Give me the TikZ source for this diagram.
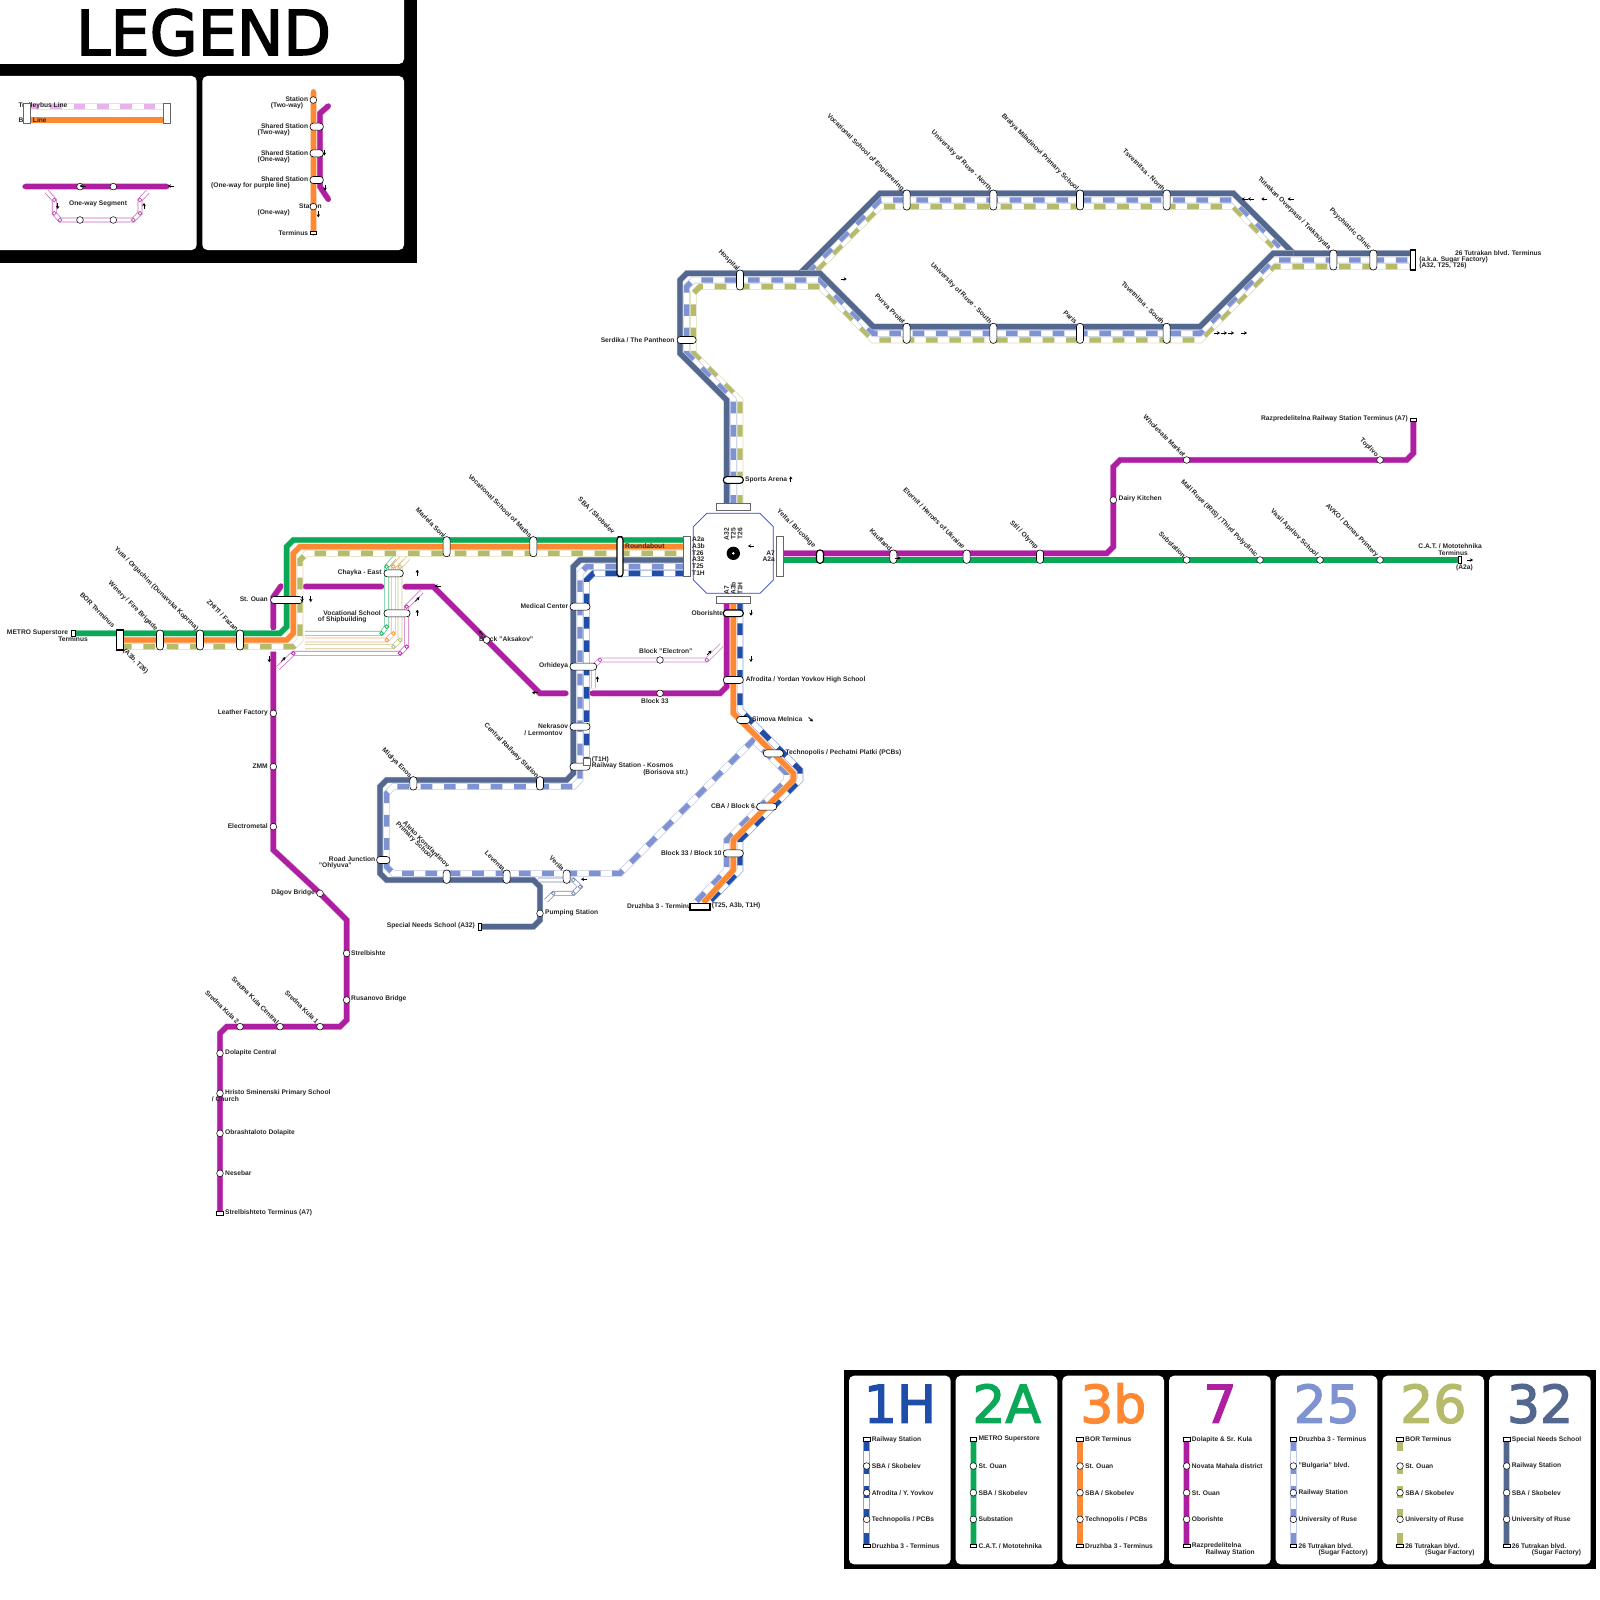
\documentclass[tikz,border=0pt]{standalone}
\usepackage{fontspec}
\setmainfont{Liberation Sans}
\newfontfamily\routefont[RawFeature={embolden=2.5}]{DejaVu Sans}
\usetikzlibrary{positioning,arrows.meta,backgrounds,calc}
\definecolor{linepurple}{RGB}{173,31,160}
\definecolor{linegreen}{RGB}{11,168,88}
\definecolor{lineorange}{RGB}{255,136,51}
\definecolor{lineblue}{RGB}{127,146,210}
\definecolor{lineolive}{RGB}{182,187,107}
\definecolor{lineslate}{RGB}{84,104,143}
\definecolor{linenavy}{RGB}{31,77,168}
\definecolor{legpink}{RGB}{230,180,235}
\definecolor{hubblue}{RGB}{43,63,224}
\tikzset{
  lab/.style={font=\bfseries\fontsize{6.67}{7.5}\selectfont,inner sep=0pt,text=black!85},
  eastlab/.style={lab,anchor=east},
  westlab/.style={lab,anchor=west},
  diaglab/.style={lab,anchor=east,rotate=-45},
  bigglyph/.style={font=\routefont\fontsize{#1}{#1}\selectfont,inner sep=0pt,anchor=base},
  stn/.style={circle,draw=black,fill=white,line width=.5pt,minimum size=6.67pt,inner sep=0pt},
  termbox/.style={rectangle,draw=black,fill=white,line width=.6pt,minimum width=6.67pt,minimum height=3.3pt,inner sep=0pt},
  capsule/.style={rectangle,rounded corners=3.2pt,draw=black,fill=white,line width=.6pt,inner sep=0pt},
  platbox/.style={rectangle,draw=black!60,fill=white,line width=.7pt,inner sep=0pt},
  bus/.style={draw=#1,line width=5.3pt,preaction={draw=#1!35,line width=6.4pt}},
  trolley/.style={draw=#1,line width=5.3pt,dash pattern=on 11.67pt off 11.67pt,
    preaction={draw=#1!50,solid,line width=6.6pt},preaction={draw=white,solid,line width=5.2pt}},
  oneway/.style={draw=#1,line width=.7pt,double=white,double distance=3.3pt},
  ring/.style={draw=#1,fill=white,line width=.7pt},
  dirtip/.style={-{Stealth[length=3pt,width=3.5pt]},line width=.8pt,black}
}
\begin{document}
\begin{tikzpicture}[x=1pt,y=-1pt]
  \useasboundingbox (0,0) rectangle (1600,1600);

  % texts of the map
  \foreach \x/\y/\txt [count=\i] in {
    903/190/{Vocational School of Engineering},990.6/190/{University of Ruse - North},
    1077.6/190/{Bratya Miladinovi Primary School},1164/190/{Tsvetnitsa - North},
    1329.8/249/{Tutrakan Overpass / Traktsiyata},1370/249/{Psychiatric Clinic},738.4/270/{Hospital},
    904.3/323/{Purva Prolet},990.6/323/{University of Ruse - South},1076.3/323/{Paris},1163.3/323/{Tsvetnitsa - South},
    814.5/547/{Yelta / Bricolage},891/550/{Kaufland},964/548/{Eternit / Heroes of Ukraine},1037/548/{Stil / Olymp},
    1184.6/557/{Substation},1256.7/556/{Mall Ruse (IRIS) / Third Polyclinic},1317/556/{Vasil Aprilov School},
    1377.4/556/{AVKO / Dunav Printery},1184.6/456/{Wholesale Market},1377.4/456/{Toplivo},
    114/626.7/{BOR Terminus},156.7/630/{Winery / Fire Brigade},197.3/630/{Yuta / Orgachim (Dunavska Koprina)},
    237.3/630/{ZHITI / Fazan},445/536.7/{Mariela Soni},531/536.7/{Vocational School of Maths},614/533/{SBA / Skobelev},
    410.7/777.3/{Midiya Enos},537.7/777.3/{Central Railway Station},448.7/866.7/{Aleko Konstantinov},
    431.7/858/{Primary School},504/870/{Leventa},563.3/870/{Verila},
    238/1023/{Sredna Kula 2},278/1023/{Sredna Kula Central},317.7/1023/{Sredna Kula 1},147/673/{(A3b, T26)}
  } \node[diaglab] (dl\i) at (\x,\y) {\txt};
  \foreach \x/\y/\txt [count=\i] in {
    674.7/340/{Serdika / The Pantheon},1541.6/253/{26 Tutrakan blvd. Terminus},1408/419/{Razpredelitelna Railway Station Terminus (A7)},
    1482/546/{C.A.T. / Mototehnika},1468/553/{Terminus},1473/568/{(A2a)},
    68.3/632.7/{METRO Superstore},88/639.3/{Terminus},268/599.3/{St. Ouan},
    381.7/572.7/{Chayka - East},381/612.7/{Vocational School},366.7/619.3/{of Shipbuilding},
    268/712.7/{Leather Factory},268/766/{ZMM},268/826/{Electrometal},315/892.7/{Dãgov Bridge},
    568.3/606/{Medical Center},568.3/666/{Orhideya},568.3/726/{Nekrasov},562.7/732.7/{/ Lermontov},
    688.3/772.7/{(Borisova str.)},375.5/859/{Road Junction},352/866/{"Ohlyuva"},475/926/{Special Needs School (A32)},
    723.3/612.7/{Oborishte},755/806/{CBA / Block 6},721.7/852.7/{Block 33 / Block 10},695/906/{Druzhba 3 - Terminus},
    775/552.7/{A7},775/559.3/{A2a},
    308.3/99.3/{Station},303.3/106/{(Two-way)},308.3/126/{Shared Station},290/132.7/{(Two-way)},
    308.3/152.7/{Shared Station},290/159.3/{(One-way)},308.3/179.3/{Shared Station},290/186/{(One-way for purple line)},
    290/212.7/{(One-way)},308.3/232.7/{Terminus}
  } \node[eastlab] (el\i) at (\x,\y) {\txt};
  \foreach \x/\y/\txt [count=\i] in {
    1419.2/259.5/{(a.k.a. Sugar Factory)},1419.2/266/{(A32, T25, T26)},745/480/{Sports Arena},
    1118.5/499/{Dairy Kitchen},225/1053/{Dolapite Central},225/1092.7/{Hristo Sminenski Primary School},
    211.7/1099.3/{/ Church},225/1133/{Obrashtaloto Dolapite},225/1173/{Nesebar},225/1213/{Strelbishteto Terminus (A7)},
    351/953/{Strelbishte},351/999/{Rusanovo Bridge},479/639.3/{Block "Aksakov"},625/546/{Roundabout},
    639/650.7/{Block "Electron"},641/700.7/{Block 33},591.7/759.3/{(T1H)},591.7/766/{Railway Station - Kosmos},
    545/912.7/{Pumping Station},745.7/680/{Afrodita / Yordan Yovkov High School},752/719.3/{Simova Melnica},
    785.3/752.7/{Technopolis / Pechatni Platki (PCBs)},711.7/906/{(T25, A3b, T1H)},
    692/539.3/{A2a},692/546/{A3b},692/553/{T26},692/559.3/{A32},692/566/{T25},692/572.7/{T1H},
    18.3/106/{Trolleybus Line},18.3/120/{Bus Line},69/204.3/{One-way Segment},299/206/{Station}
  } \node[westlab] (wl\i) at (\x,\y) {\txt};
  \foreach \x/\txt [count=\i] in {726.67/A32,733.33/T25,740/T26}
    \node[lab,anchor=east,rotate=90] (hubt\i) at (\x,528) {\txt};
  \foreach \x/\txt [count=\i] in {726.67/A7,733.33/A3b,740/T1H}
    \node[lab,anchor=west,rotate=90] (hubb\i) at (\x,595) {\txt};

  % stations
  \foreach \x/\y/\n in {1186.67/560/substn,1260/560/mallruse,1320/560/vasil,1380/560/avko,1186.67/460/wholesale,
    1380/460/toplivo,1113.33/500/dairy,273.33/713.33/leather,273.33/766.67/zmm,273.33/826.67/electro,320/893.33/dagov,
    346.67/953.33/strelb,346.67/1000/rusanovo,320/1026.67/kulaone,280/1026.67/kulacen,240/1026.67/kulatwo,
    220/1053.33/dolcen,220/1093.33/hristo,220/1133.33/obrasht,220/1173.33/nesebar,540/913.33/pumping,
    486.67/640/aksakov,660/693.33/blockthree,660/660/electron,80/186.67/lega,113.33/186.67/legb,80/220/legc,
    113.33/220/legd,313.33/100/lege,313.33/206.67/legf}
    \node[stn] (\n) at (\x,\y) {};
  \foreach \x/\y/\n in {1413.33/420/razterm,220/1213.33/strelterm,313.33/233/legterm}
    \node[termbox] (\n) at (\x,\y) {};
  \node[termbox,minimum width=3.5pt,minimum height=6.67pt] at (1460,560) (catterm) {};
  \node[termbox,minimum width=3.5pt,minimum height=6.67pt] at (73.3,633.33) (metroterm) {};
  \node[termbox,minimum width=3.5pt,minimum height=6.67pt] at (480,926.67) (specterm) {};
  % capsules, upright
  \foreach \x/\y/\h [count=\i] in {906.67/200/20,993.33/200/20,1080/200/20,1166.67/200/20,906.67/333.33/20,993.33/333.33/20,
    1080/333.33/20,1166.67/333.33/20,740/280/20,1333.33/260/20,1373.33/260/20,893.33/556.67/13.33,966.67/556.67/13.33,
    1040/556.67/13.33,160/640/20,200/640/20,240/640/20,446.67/546.67/20,533.33/546.67/20,413.33/783.33/13.33,
    540/783.33/13.33,446.67/876.67/13.33,506.67/876.67/13.33,566.67/876.67/13.33}
    \node[capsule,minimum width=7pt,minimum height=\h pt] (cv\i) at (\x,\y) {};
  % capsules, lying
  \foreach \x/\y/\w [count=\i] in {686.67/340/19,286.67/600/32,393.67/573.33/19.3,397/613.33/26,580/606.67/20,
    583.33/666.67/26.67,580/726.67/20,580/766.67/20,733.33/680/20,743.33/720/13.33,773.33/753.33/20,766.67/806.67/20,
    733.33/853.33/20,383.33/860/13.33,316.67/126.67/13.33,316.67/153.33/13.33,316.67/180/13.33}
    \node[capsule,minimum width=\w pt,minimum height=7pt] (ch\i) at (\x,\y) {};
  \node[capsule,line width=1.1pt,minimum width=7pt,minimum height=13.33pt] (yelta) at (820,556.67) {};
  \node[capsule,line width=1.1pt,minimum width=6pt,minimum height=40pt] (sbasta) at (620,556.67) {};
  \node[capsule,line width=1.1pt,minimum width=20pt,minimum height=6.67pt] (sports) at (733.33,480) {};
  \node[capsule,line width=1.1pt,minimum width=20pt,minimum height=6.67pt] (oborishte) at (733.33,613.33) {};
  % platforms and termini
  \node[platbox,minimum width=34pt,minimum height=6.67pt] (tplat) at (733.33,506.67) {};
  \node[platbox,minimum width=34pt,minimum height=6.67pt] (bplat) at (733.33,600) {};
  \node[platbox,minimum width=7.3pt,minimum height=40pt] (lplat) at (687,556.67) {};
  \node[platbox,minimum width=6.67pt,minimum height=40pt] (rplat) at (780,556.67) {};
  \node[platbox,draw=black,line width=1.1pt,minimum width=6.67pt,minimum height=20pt] (lterm) at (120,640) {};
  \node[platbox,draw=black,line width=1.1pt,minimum width=5pt,minimum height=20pt] (rterm) at (1413.33,260) {};
  \node[platbox,draw=black,line width=1.1pt,minimum width=20pt,minimum height=6.67pt] (druzhba) at (700,906.67) {};
  \node[platbox,minimum width=6.67pt,minimum height=6.67pt] (kosmosbox) at (586.67,761.67) {};
  \node[platbox,minimum width=7.3pt,minimum height=20pt] (tleft) at (27,113.33) {};
  \node[platbox,minimum width=6.67pt,minimum height=20pt] (tright) at (166.67,113.33) {};
  \node[circle,fill=black,minimum size=13.33pt,inner sep=0pt] (hub) at (733.33,553.33) {};
  \node[circle,fill=white,minimum size=2.7pt,inner sep=0pt] (hubhole) at (733.33,553.33) {};

  % route panels
  \fill[black] (844,1370) rectangle (1596,1569);
  \foreach \px/\col/\kind/\ttl/\ua/\ub/\uc/\ud/\ue [count=\i] in {
    849/linenavy/trolley/1H/{Railway Station}/{SBA / Skobelev}/{Afrodita / Y. Yovkov}/{Technopolis / PCBs}/{Druzhba 3 - Terminus},
    955.67/linegreen/bus/2A/{METRO Superstore}/{St. Ouan}/{SBA / Skobelev}/{Substation}/{C.A.T. / Mototehnika},
    1062.33/lineorange/bus/3b/{BOR Terminus}/{St. Ouan}/{SBA / Skobelev}/{Technopolis / PCBs}/{Druzhba 3 - Terminus},
    1169/linepurple/bus/7/{Dolapite \& Sr. Kula}/{Novata Mahala district}/{St. Ouan}/{Oborishte}/{Razpredelitelna},
    1275.67/lineblue/trolley/25/{Druzhba 3 - Terminus}/{"Bulgaria" blvd.}/{Railway Station}/{University of Ruse}/{26 Tutrakan blvd.},
    1382.33/lineolive/trolley/26/{BOR Terminus}/{St. Ouan}/{SBA / Skobelev}/{University of Ruse}/{26 Tutrakan blvd.},
    1489/lineslate/bus/32/{Special Needs School}/{Railway Station}/{SBA / Skobelev}/{University of Ruse}/{26 Tutrakan blvd.}
  } {
    \fill[white,rounded corners=5pt] (\px,1375.7) rectangle (\px+101.67,1564.3);
    \node[bigglyph=52,text=\col] (pt\i) at (\px+51,1422.7) {\ttl};
    \draw[\kind=\col] (\px+17.67,1439.3) -- (\px+17.67,1546);
    \node[stn] (pb\i) at (\px+17.67,1466) {};
    \node[stn] (pc\i) at (\px+17.67,1492.7) {};
    \node[stn] (pd\i) at (\px+17.67,1519.3) {};
    \node[termbox] (pa\i) at (\px+17.67,1439.3) {};
    \node[termbox] (pe\i) at (\px+17.67,1546) {};
    \node[westlab] (qa\i) at (\px+22.7,1439.3) {\ua};
    \node[westlab] (qb\i) at (\px+22.7,1466) {\ub};
    \node[westlab] (qc\i) at (\px+22.7,1492.7) {\uc};
    \node[westlab] (qd\i) at (\px+22.7,1519.3) {\ud};
    \node[westlab] (qe\i) at (\px+22.7,1546) {\ue};
  }
  \foreach \x/\txt [count=\i] in {1255/Railway Station,1368/(Sugar Factory),1474.7/(Sugar Factory),1581.3/(Sugar Factory)}
    \node[eastlab] (qf\i) at (\x,1552.7) {\txt};

  \begin{scope}[on background layer]
    % legend frame
    \fill[black] (0,0) rectangle (417,263);
    \fill[white,rounded corners=5pt] (-10,-10) rectangle (404,64);
    \fill[white,rounded corners=5pt] (-10,76) rectangle (196.7,250);
    \fill[white,rounded corners=5pt] (202.3,76) rectangle (404,250);
    \draw[trolley=legpink] (tleft |- 0,106.67) -- (tright |- 0,106.67);
    \draw[bus=lineorange] (tleft |- 0,120) -- (tright |- 0,120);
    \draw[bus=linepurple,line cap=round] (25,186.67) -- (167,186.67);
    \draw[oneway=linepurple!70] (46.7,191.7) -- (54.3,200) -- (54.3,213.3) -- (60,220) -- (133.3,220) -- (140,213.3) -- (140,200) -- (147.7,191.7);
    \foreach \x/\y in {54.3/200,54.3/213.3,60/220,133.3/220,140/213.3,140/200}
      \draw[ring=linepurple!80] (\x,\y) circle (1.9pt);
    \draw[bus=lineorange,line cap=round] (lege.center) -- (313.33,91.7) (lege.center) -- (legterm.center);
    \draw[bus=linepurple,line cap=round] (328.3,106) -- (320,113.3) -- (320,186.7) -- (328.3,199.3);

    % purple route
    \draw[bus=linepurple] (razterm.center) -- (1413.33,453.33) -- (1406.67,460) -- (toplivo.center) -- (wholesale.center) -- (1120,460) -- (1113.33,466.67) -- (dairy.center) -- (1113.33,546.67) -- (1106.67,553.33) -- (rplat |- 0,553.33);
    \draw[bus=linepurple,line cap=round] (273.33,628) -- (273.33,597) -- (281,586);
    \draw[bus=linepurple,line cap=round] (305,586.67) -- (381.67,586.67);
    \draw[bus=linepurple,line cap=round] (405,586.67) -- (433.33,586.67) -- (aksakov.center) -- (540,693.33) -- (566,693.33);
    \draw[bus=linepurple,line cap=round] (592,693.33) -- (blockthree.center) -- (720,693.33) -- (726.67,686.67) -- (726.67,0 |- bplat);
    \draw[bus=linepurple] (273.33,651.67) -- (leather.center) -- (zmm.center) -- (electro.center) -- (273.33,850) -- (dagov.center) -- (346.67,920) -- (strelb.center) -- (rusanovo.center) -- (346.67,1020) -- (340,1026.67) -- (kulaone.center) -- (kulacen.center) -- (kulatwo.center) -- (226.67,1026.67) -- (220,1033.33) -- (dolcen.center) -- (hristo.center) -- (obrasht.center) -- (nesebar.center) -- (strelterm.center);

    % green, orange and olive going west
    \draw[bus=linegreen] (rplat |- 0,560) -- (substn.center) -- (mallruse.center) -- (vasil.center) -- (avko.center) -- (catterm.center);
    \draw[bus=linegreen] (metroterm.center) -- (280,633.33) -- (286.67,626.67) -- (286.67,546.67) -- (293.33,540) -- (lplat |- 0,540);
    \draw[bus=lineorange] (lterm |- 0,640) -- (286.67,640) -- (293.33,633.33) -- (293.33,553.33) -- (300,546.67) -- (lplat |- 0,546.67);
    \draw[trolley=lineolive] (lterm |- 0,646.67) -- (293.33,646.67) -- (300,640) -- (300,560) -- (306.67,553.33) -- (lplat |- 0,553.33);

    % one-way branch at Chayka
    \draw[oneway=linegreen!70] (305,633.33) -- (381.67,633.33) -- (386.67,626.67) -- (386.67,566.67) -- (394.3,558);
    \draw[oneway=lineorange!70] (305,640) -- (386.67,640) -- (393.33,633.33) -- (393.33,566.67) -- (401.7,558);
    \draw[oneway=lineolive!80] (305,646.67) -- (393.33,646.67) -- (400,640) -- (400,566.67) -- (408.3,558);
    \draw[oneway=linepurple!70] (278,668) -- (293.33,653.33) -- (400,653.33) -- (406.67,646.67) -- (406.67,606.67) -- (421.7,591.7);
    \foreach \x/\y/\col in {381.67/633.33/linegreen,386.67/626.67/linegreen,386.67/566.67/linegreen,386.67/640/lineorange,393.33/633.33/lineorange,393.33/566.67/lineorange,393.33/646.67/lineolive,400/640/lineolive,400/566.67/lineolive,293.33/653.33/linepurple,400/653.33/linepurple,406.67/646.67/linepurple,406.67/606.67/linepurple}
      \draw[ring=\col] (\x,\y) circle (1.9pt);

    % route to Block Electron
    \draw[oneway=linepurple!55] (593.33,688.33) -- (593.33,666.67) -- (600,660) -- (electron.center) -- (706.67,660) -- (721.7,645);
    \foreach \x/\y in {600/660,706.67/660}
      \draw[ring=linepurple!80] (\x,\y) circle (1.9pt);

    % blue and olive trunk, slate above them
    \draw[trolley=lineolive] (740,0 |- tplat) -- (740,400) -- (693.33,353.33) -- (693.33,293.33) -- (700,286.67) -- (820,286.67) -- (873.33,340) -- (1200,340) -- (1273.33,266.67) -- (rterm |- 0,266.67);
    \draw[trolley=lineolive] (816.67,270) -- (880,206.67) -- (1233.33,206.67) -- (1273.33,246.67);
    \draw[trolley=lineblue] (733.33,0 |- tplat) -- (733.33,400) -- (686.67,353.33) -- (686.67,286.67) -- (693.33,280) -- (820,280) -- (873.33,333.33) -- (1200,333.33) -- (1273.33,260) -- (rterm |- 0,260);
    \draw[trolley=lineblue] (806.67,273.33) -- (880,200) -- (1233.33,200) -- (1280,246.67);
    \draw[bus=lineslate] (726.67,0 |- tplat) -- (726.67,400) -- (680,353.33) -- (680,280) -- (686.67,273.33) -- (800,273.33) -- (880,193.33) -- (1233.33,193.33) -- (1293.33,253.33) -- (rterm |- 0,253.33);
    \draw[bus=lineslate] (800,273.33) -- (820,273.33) -- (873.33,326.67) -- (1200,326.67) -- (1273.33,253.33) -- (1293.33,253.33);

    % southern routes
    \draw[trolley=lineblue] (lplat |- 0,566.67) -- (586.67,566.67) -- (580,573.33) -- (580,780) -- (573.33,786.67) -- (393.33,786.67) -- (386.67,793.33) -- (386.67,866.67) -- (393.33,873.33) -- (620,873.33) -- (753.33,740) -- (786.67,773.33) -- (786.67,780) -- (726.67,840) -- (726.67,870) -- (695,0 |- druzhba.north);
    \draw[trolley=linenavy] (lplat |- 0,573.33) -- (593.33,573.33) -- (586.67,580) -- (kosmosbox.center);
    \draw[trolley=linenavy] (740,0 |- bplat) -- (740,710) -- (800,770) -- (800,780) -- (740,840) -- (740,870) -- (708.33,0 |- druzhba.north);
    \draw[bus=lineorange] (733.33,0 |- bplat) -- (733.33,713.33) -- (793.33,773.33) -- (793.33,780) -- (733.33,840) -- (733.33,870) -- (703.33,0 |- druzhba.north);
    \draw[bus=lineslate] (lplat |- 0,560) -- (580,560) -- (573.33,566.67) -- (573.33,773.33) -- (566.67,780) -- (386.67,780) -- (380,786.67) -- (380,873.33) -- (386.67,880) -- (533.33,880) -- (540,886.67) -- (pumping.center) -- (540,920) -- (533.33,926.67) -- (specterm.center);
    \draw[oneway=lineslate!80] (538.3,880) -- (573.33,880) -- (580,886.67) -- (573.33,893.33) -- (553.33,893.33) -- (546,900.7);
    \foreach \x/\y in {573.33/880,580/886.67,573.33/893.33,553.33/893.33}
      \draw[ring=lineslate!80] (\x,\y) circle (1.9pt);

    % hub outline
    \draw[hubblue,line width=.7pt] (706.67,513.33) -- (760,513.33) -- (773.33,526.67) -- (773.33,580) -- (760,593.33) -- (706.67,593.33) -- (693.33,580) -- (693.33,526.67) -- cycle;
  \end{scope}

  % title
  \node[bigglyph=62,text=black] (legendttl) at (203.5,55) {LEGEND};

  % direction marks
  \foreach \x/\y/\a in {1244.7/199/180,1250.8/199/180,1264.3/199/180,1290.6/199/180,1217/333/0,1224/333/0,1231/333/0,1244/333/0,
    843.7/279/0,790.7/479.3/90,751/546/180,751/612.7/-90,751/659/-90,810.7/719.3/-45,897.6/558/0,1470/560/0,
    302/599/-90,310.7/599/-90,417.3/572.7/90,417.3/612.7/90,417.3/599.3/45,437.7/586/180,269.3/659.3/-90,283.3/659.3/45,
    480.7/632.7/135,535/692.7/180,597.3/679.3/90,709.3/652.7/45,584/879.3/180,
    82.7/186/180,171/186/180,57.7/206/-90,144/206/90,324.3/152.7/-90,325/187.7/-90,318.3/214.3/-90}
    \draw[dirtip,shift={(\x,\y)},rotate=\a] (-3,0) -- (3,0);
\end{tikzpicture}
\end{document}
